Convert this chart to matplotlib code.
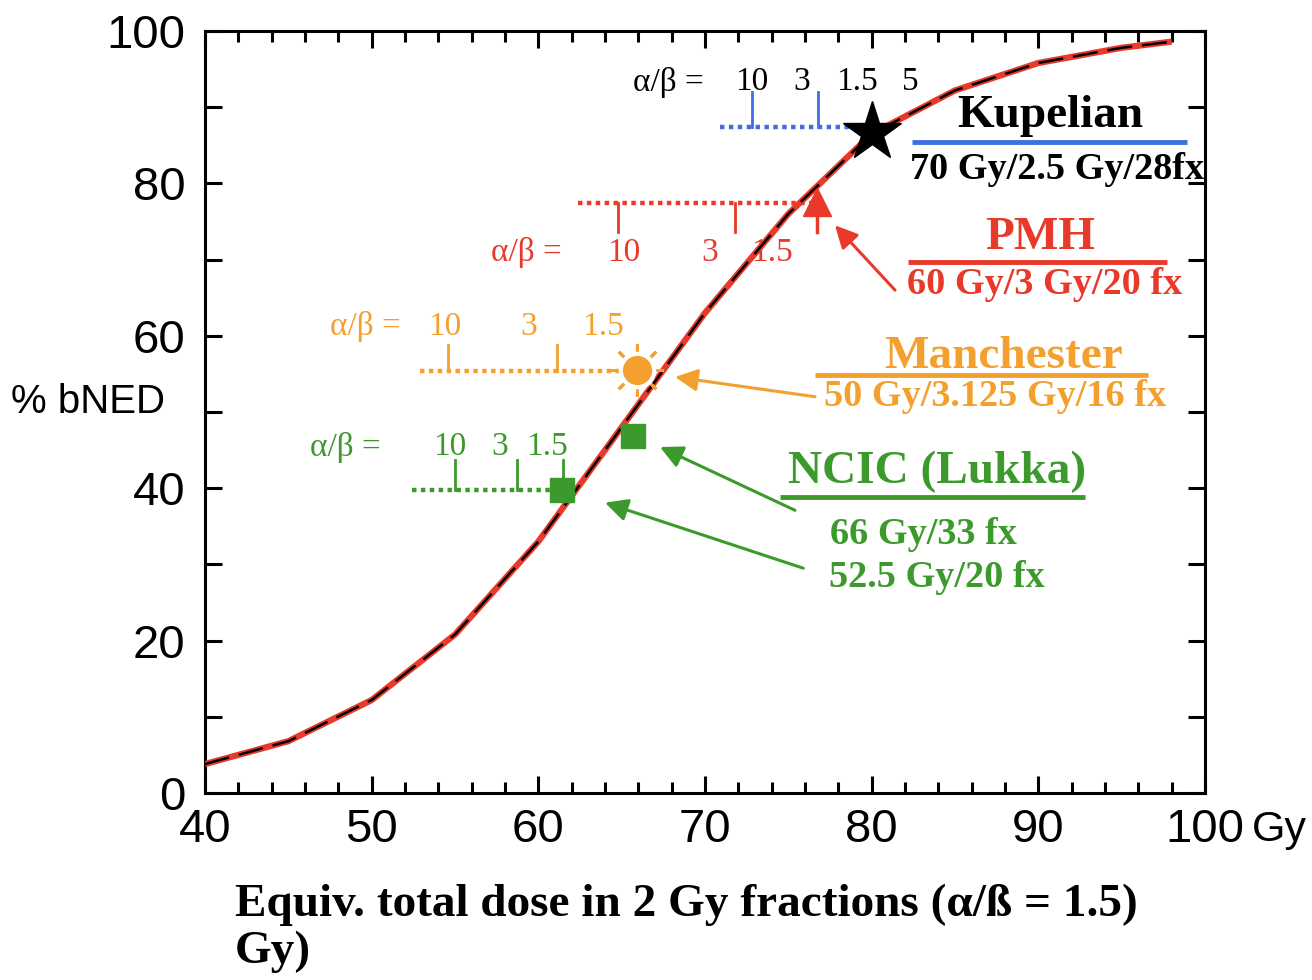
import numpy as np
import matplotlib
matplotlib.use("Agg")
import matplotlib.pyplot as plt
from matplotlib.ticker import MultipleLocator

# dose-response curve (% bNED vs EQD2 at alpha/beta = 1.5)
dose = [40, 45, 50, 55, 60, 65, 70, 75, 80, 85, 90, 95, 98]
bned = [3.8, 6.8, 12.2, 20.8, 33, 48, 63, 76, 86.5, 92.2, 95.8, 97.8, 98.6]

# trial points
kup_pt = (80.0, 86.8)
pmh_pt = (76.7, 77.6)
man_pt = (65.9, 55.5)
ncic_pts_x = [61.4, 65.7]
ncic_pts_y = [39.8, 46.9]

# alpha/beta scale ticks (x position of each alpha/beta value)
kup_ab = [72.8, 76.8]
pmh_ab = [64.8, 71.8]
man_ab = [54.6, 61.1]
ncic_ab = [55.0, 58.7, 61.5]

BLUE = "#3f6fe2"
RED = "#e8392a"
ORANGE = "#f3a02e"
GREEN = "#3b9a2b"

SERIF = "Liberation Serif"
SANS = "Liberation Sans"

fig = plt.figure(figsize=(13.12, 9.8), dpi=100)
ax = fig.add_axes([205 / 1312, 1 - 793 / 980, 1000 / 1312, 762 / 980])

ax.plot(dose, bned, color=RED, lw=4.5, solid_capstyle="butt", zorder=3)
ax.plot(dose, bned, color="black", lw=1.8, dashes=(10, 4), zorder=4)

ax.set_xlim(40, 100)
ax.set_ylim(0, 100)
ax.xaxis.set_major_locator(MultipleLocator(10))
ax.xaxis.set_minor_locator(MultipleLocator(2))
ax.yaxis.set_major_locator(MultipleLocator(20))
ax.yaxis.set_minor_locator(MultipleLocator(10))
ax.tick_params(which="both", direction="in", top=True, right=True, width=2.2)
ax.tick_params(which="major", length=12)
ax.tick_params(which="minor", length=8)
ax.tick_params(axis="x", which="major", pad=11)
ax.tick_params(axis="y", which="major", pad=14)
ax.tick_params(axis="y", which="minor", length=12)
for s in ax.spines.values():
    s.set_linewidth(2.2)
for lab in ax.get_xticklabels() + ax.get_yticklabels():
    lab.set_fontfamily(SANS)
    lab.set_fontsize(34)
ax.annotate("Gy", xy=(100, 0), xytext=(47, -17), textcoords="offset pixels",
            fontsize=31, family=SANS, ha="left", va="top", annotation_clip=False)

fig.text(165 / 1312, 1 - 402 / 980, "% bNED", fontsize=29, family=SANS,
         ha="right", va="center")
fig.text(235 / 1312, 1 - 916 / 980, "Equiv. total dose in 2 Gy fractions (\u03b1/\u00df = 1.5)",
         fontsize=34, family=SERIF, weight="bold", va="baseline")
fig.text(235 / 1312, 1 - 963 / 980, "Gy)",
         fontsize=34, family=SERIF, weight="bold", va="baseline")


def ab_scale(x0, x1, y, ticks, ytop, color):
    ax.plot([x0, x1], [y, y], color=color, lw=3.2, linestyle=(0, (1, 1)),
            dash_capstyle="butt", zorder=2)
    for t in ticks:
        ax.plot([t, t], [y, ytop], color=color, lw=2, zorder=2)


def ab_labels(y, xs, color):
    labs = ["\u03b1/\u03b2 =", "10", "3", "1.5", "5"]
    for xx, s in zip(xs, labs):
        ax.text(xx, y, s, color=color, fontsize=24, family=SERIF,
                ha="center", va="center")


def title(x, y, s, color, ul_x0, ul_x1, ul_y, ul_color):
    ax.text(x, y, s, color=color, fontsize=34, family=SERIF, weight="bold",
            ha="center", va="center", zorder=5)
    ax.plot([ul_x0, ul_x1], [ul_y, ul_y], color=ul_color, lw=3.5,
            solid_capstyle="butt", clip_on=False)


def sub(x, y, s, color):
    ax.text(x, y, s, color=color, fontsize=27.5, family=SERIF, weight="bold",
            ha="center", va="center", zorder=5, clip_on=False)


def arrow(x0, y0, x1, y1, color):
    ax.annotate("", xy=(x1, y1), xytext=(x0, y0),
                arrowprops=dict(arrowstyle="-|>", color=color, lw=2.2,
                                mutation_scale=34, shrinkA=0, shrinkB=0))


# Kupelian
ab_scale(70.9, 79.0, 87.4, kup_ab, 92.0, BLUE)
ab_labels(93.3, [67.8, 72.8, 75.8, 79.1, 82.3], "black")
ax.plot(*kup_pt, marker="*", color="black", ms=44, mec="black", zorder=6)
title(90.7, 88.9, "Kupelian", "black", 82.4, 98.9, 85.4, BLUE)
sub(91.1, 81.8, "70 Gy/2.5 Gy/28fx", "black")

# PMH
ab_scale(62.4, 76.4, 77.4, pmh_ab, 73.6, RED)
ab_labels(70.9, [59.3, 65.1, 70.3, 74.0], RED)
ax.plot([pmh_pt[0], pmh_pt[0]], [pmh_pt[1], 73.6], color=RED, lw=2.5, zorder=6)
ax.plot(*pmh_pt, marker="^", color=RED, ms=20, mec=RED, zorder=6)
title(90.1, 72.8, "PMH", RED, 82.2, 97.7, 69.7, RED)
sub(90.4, 66.7, "60 Gy/3 Gy/20 fx", RED)
arrow(81.4, 66.0, 77.8, 74.5, RED)

# Manchester
ab_scale(52.9, 65.2, 55.4, man_ab, 58.8, ORANGE)
ab_labels(61.2, [49.6, 54.4, 59.4, 63.9], ORANGE)
ax.plot(*man_pt, marker=(8, 2, 0), color=ORANGE, ms=38, mew=2, zorder=6)
ax.plot(*man_pt, marker="o", color="white", ms=26, mec="white", zorder=6)
ax.plot(*man_pt, marker="o", color=ORANGE, ms=20, mec=ORANGE, zorder=7)
title(87.9, 57.2, "Manchester", ORANGE, 76.6, 96.6, 54.9, ORANGE)
sub(87.4, 52.0, "50 Gy/3.125 Gy/16 fx", ORANGE)
arrow(76.6, 52.0, 68.2, 54.6, ORANGE)

# NCIC (Lukka)
ab_scale(52.4, 60.8, 39.8, ncic_ab, 43.7, GREEN)
ab_labels(45.4, [48.4, 54.7, 57.7, 60.5], GREEN)
ax.plot(ncic_pts_x, ncic_pts_y, linestyle="none", marker="s", color=GREEN,
        ms=17, mec=GREEN, zorder=6)
title(83.9, 42.2, "NCIC (Lukka)", GREEN, 74.5, 92.8, 38.8, GREEN)
sub(83.1, 33.9, "66 Gy/33 fx", GREEN)
sub(83.9, 28.3, "52.5 Gy/20 fx", GREEN)
arrow(75.4, 37.1, 67.3, 45.4, GREEN)
arrow(75.9, 29.5, 64.0, 38.1, GREEN)

fig.savefig("out.png", dpi=100)
